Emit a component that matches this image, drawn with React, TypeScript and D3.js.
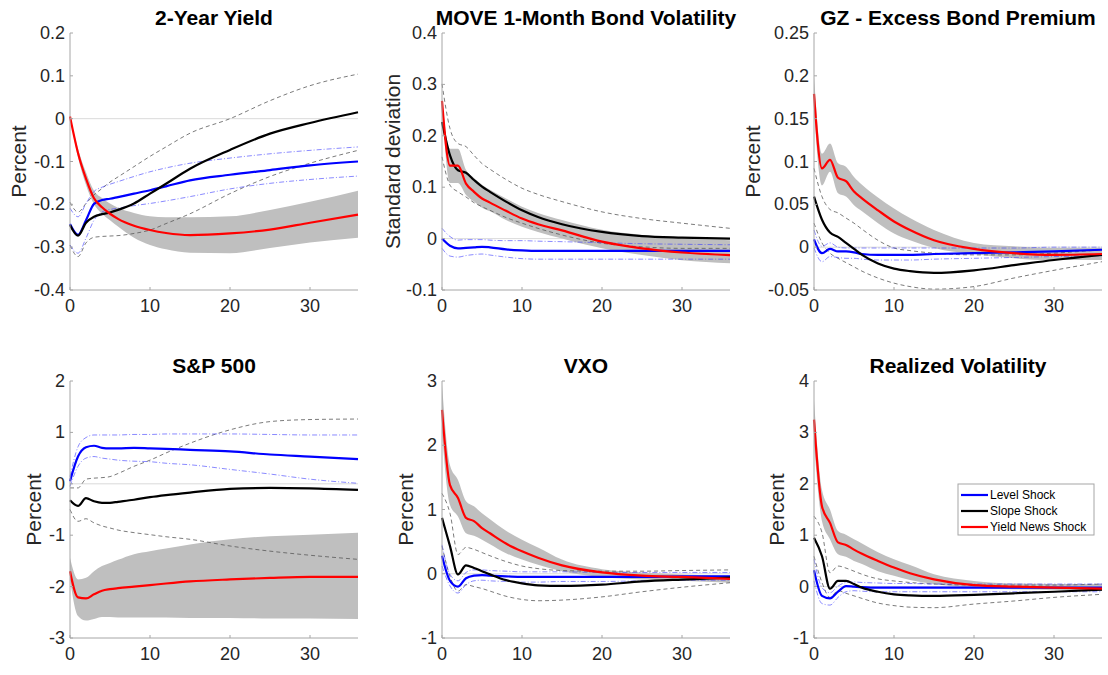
import React from "react";
import * as d3 from "d3";

// Horizons (months) at which values were read
const H = [0, 1, 2, 3, 4, 5, 6, 8, 10, 12, 15, 20, 25, 30, 36];

const TITLES = ["2-Year Yield", "MOVE 1-Month Bond Volatility", "GZ - Excess Bond Premium", "S&P 500", "VXO", "Realized Volatility"];
const YLABELS = ["Percent", "Standard deviation", "Percent", "Percent", "Percent", "Percent"];
const YDOMAINS = [[-0.4, 0.2], [-0.1, 0.4], [-0.05, 0.25], [-3, 2], [-1, 3], [-1, 4]];
const YTICKS = [
  [-0.4, -0.3, -0.2, -0.1, 0, 0.1, 0.2],
  [-0.1, 0, 0.1, 0.2, 0.3, 0.4],
  [-0.05, 0, 0.05, 0.1, 0.15, 0.2, 0.25],
  [-3, -2, -1, 0, 1, 2],
  [-1, 0, 1, 2, 3],
  [-1, 0, 1, 2, 3, 4],
];
const XTICKS = [0, 10, 20, 30];
const LEGEND = ["Level Shock", "Slope Shock", "Yield News Shock"];

// Panel 1: 2-Year Yield
const p1News = [0.005, -0.08, -0.14, -0.186, -0.207, -0.222, -0.234, -0.25, -0.26, -0.267, -0.272, -0.268, -0.259, -0.243, -0.224];
const p1NewsHi = [0.005, -0.07, -0.125, -0.168, -0.185, -0.198, -0.208, -0.22, -0.228, -0.23, -0.23, -0.228, -0.213, -0.194, -0.168];
const p1NewsLo = [0.005, -0.09, -0.155, -0.2, -0.222, -0.237, -0.252, -0.278, -0.295, -0.305, -0.313, -0.314, -0.302, -0.289, -0.278];
const p1Slope = [-0.248, -0.273, -0.243, -0.229, -0.223, -0.219, -0.213, -0.198, -0.175, -0.152, -0.117, -0.073, -0.035, -0.01, 0.015];
const p1SlopeHi = [-0.195, -0.218, -0.198, -0.178, -0.163, -0.148, -0.136, -0.112, -0.088, -0.066, -0.034, 0.0, 0.042, 0.077, 0.104];
const p1SlopeLo = [-0.295, -0.322, -0.29, -0.277, -0.275, -0.274, -0.273, -0.268, -0.26, -0.245, -0.222, -0.175, -0.135, -0.104, -0.074];
const p1Level = [-0.246, -0.271, -0.237, -0.199, -0.19, -0.187, -0.183, -0.175, -0.167, -0.158, -0.144, -0.131, -0.12, -0.109, -0.1];
const p1LevelHi = [-0.209, -0.229, -0.198, -0.17, -0.16, -0.153, -0.147, -0.135, -0.124, -0.115, -0.104, -0.092, -0.082, -0.074, -0.066];
const p1LevelLo = [-0.295, -0.314, -0.279, -0.237, -0.218, -0.212, -0.209, -0.203, -0.198, -0.192, -0.182, -0.164, -0.151, -0.142, -0.134];

// Panel 2: MOVE
const p2News = [0.268, 0.142, 0.142, 0.107, 0.091, 0.078, 0.07, 0.054, 0.039, 0.028, 0.016, -0.006, -0.019, -0.027, -0.032];
const p2NewsHi = [0.272, 0.175, 0.175, 0.134, 0.118, 0.105, 0.095, 0.078, 0.062, 0.05, 0.036, 0.017, 0.007, 0.0, -0.003];
const p2NewsLo = [0.264, 0.108, 0.108, 0.085, 0.072, 0.06, 0.053, 0.036, 0.023, 0.013, 0.0, -0.019, -0.032, -0.042, -0.048];
const p2Slope = [0.227, 0.162, 0.133, 0.128, 0.114, 0.101, 0.091, 0.072, 0.055, 0.042, 0.028, 0.013, 0.005, 0.002, 0.0];
const p2SlopeHi = [0.301, 0.214, 0.185, 0.179, 0.162, 0.146, 0.135, 0.115, 0.098, 0.086, 0.072, 0.052, 0.039, 0.03, 0.02];
const p2SlopeLo = [0.159, 0.104, 0.091, 0.081, 0.07, 0.062, 0.055, 0.041, 0.03, 0.02, 0.007, -0.009, -0.016, -0.019, -0.019];
const p2Level = [0.0, -0.014, -0.019, -0.018, -0.017, -0.016, -0.017, -0.021, -0.023, -0.024, -0.024, -0.024, -0.024, -0.024, -0.024];
const p2LevelHi = [0.02, 0.004, -0.003, -0.002, -0.002, -0.002, -0.003, -0.004, -0.004, -0.005, -0.006, -0.008, -0.01, -0.011, -0.012];
const p2LevelLo = [-0.019, -0.034, -0.036, -0.033, -0.031, -0.03, -0.032, -0.036, -0.039, -0.04, -0.04, -0.04, -0.04, -0.04, -0.04];

// Panel 3: GZ Excess Bond Premium
const p3News = [0.179, 0.092, 0.102, 0.081, 0.077, 0.065, 0.057, 0.043, 0.03, 0.02, 0.008, -0.002, -0.007, -0.009, -0.008];
const p3NewsHi = [0.2, 0.109, 0.121, 0.098, 0.094, 0.082, 0.073, 0.058, 0.045, 0.034, 0.02, 0.005, 0.001, -0.001, -0.001];
const p3NewsLo = [0.16, 0.072, 0.088, 0.063, 0.059, 0.049, 0.042, 0.028, 0.016, 0.008, -0.001, -0.008, -0.013, -0.015, -0.015];
const p3Slope = [0.059, 0.032, 0.017, 0.012, 0.005, -0.002, -0.009, -0.019, -0.025, -0.028, -0.03, -0.027, -0.021, -0.015, -0.009];
const p3SlopeHi = [0.092, 0.059, 0.044, 0.04, 0.034, 0.028, 0.021, 0.008, -0.001, -0.004, -0.007, -0.009, -0.009, -0.007, -0.003];
const p3SlopeLo = [0.028, 0.005, -0.007, -0.013, -0.018, -0.023, -0.028, -0.036, -0.042, -0.046, -0.049, -0.046, -0.036, -0.027, -0.017];
const p3Level = [0.009, -0.007, -0.002, -0.005, -0.005, -0.006, -0.008, -0.009, -0.009, -0.009, -0.008, -0.007, -0.006, -0.005, -0.003];
const p3LevelHi = [0.02, 0.001, 0.005, 0.0, -0.001, -0.001, -0.001, -0.001, -0.001, -0.001, -0.001, -0.001, -0.001, 0.0, 0.0];
const p3LevelLo = [-0.001, -0.017, -0.011, -0.012, -0.013, -0.013, -0.014, -0.015, -0.015, -0.015, -0.014, -0.013, -0.012, -0.011, -0.01];

// Panel 4: S&P 500
const p4News = [-1.7, -2.21, -2.23, -2.15, -2.08, -2.05, -2.03, -2.0, -1.97, -1.94, -1.9, -1.86, -1.83, -1.81, -1.81];
const p4NewsHi = [-1.44, -1.86, -1.83, -1.7, -1.6, -1.54, -1.48, -1.37, -1.31, -1.26, -1.18, -1.08, -1.02, -0.99, -0.95];
const p4NewsLo = [-1.86, -2.57, -2.66, -2.63, -2.59, -2.59, -2.6, -2.6, -2.6, -2.6, -2.61, -2.61, -2.62, -2.62, -2.63];
const p4Slope = [-0.32, -0.43, -0.28, -0.34, -0.37, -0.37, -0.35, -0.31, -0.26, -0.22, -0.17, -0.1, -0.08, -0.09, -0.12];
const p4SlopeHi = [-0.08, -0.08, 0.09, 0.11, 0.12, 0.14, 0.2, 0.34, 0.46, 0.6, 0.79, 1.05, 1.21, 1.25, 1.26];
const p4SlopeLo = [-0.5, -0.73, -0.68, -0.76, -0.82, -0.86, -0.9, -0.95, -0.99, -1.03, -1.08, -1.21, -1.31, -1.39, -1.47];
const p4Level = [0.05, 0.53, 0.71, 0.74, 0.7, 0.69, 0.69, 0.7, 0.69, 0.68, 0.66, 0.63, 0.57, 0.53, 0.48];
const p4LevelHi = [0.14, 0.72, 0.9, 0.95, 0.95, 0.95, 0.95, 0.96, 0.96, 0.97, 0.97, 0.97, 0.96, 0.95, 0.95];
const p4LevelLo = [-0.05, 0.34, 0.5, 0.53, 0.5, 0.48, 0.46, 0.44, 0.43, 0.4, 0.37, 0.28, 0.19, 0.09, 0.01];

// Panel 5: VXO
const p5News = [2.55, 1.38, 1.18, 0.87, 0.82, 0.71, 0.63, 0.47, 0.35, 0.25, 0.13, 0.02, -0.03, -0.05, -0.08];
const p5NewsHi = [2.95, 1.69, 1.46, 1.13, 1.05, 0.94, 0.85, 0.67, 0.53, 0.41, 0.22, 0.07, 0.02, -0.01, -0.03];
const p5NewsLo = [2.2, 1.07, 0.89, 0.63, 0.59, 0.53, 0.46, 0.32, 0.22, 0.14, 0.04, -0.05, -0.09, -0.11, -0.14];
const p5Slope = [0.87, 0.43, -0.01, 0.13, 0.09, 0.04, -0.01, -0.1, -0.15, -0.18, -0.19, -0.17, -0.12, -0.09, -0.06];
const p5SlopeHi = [1.25, 0.94, 0.3, 0.41, 0.38, 0.33, 0.28, 0.19, 0.12, 0.08, 0.05, 0.04, 0.04, 0.05, 0.06];
const p5SlopeLo = [0.43, -0.04, -0.27, -0.17, -0.2, -0.23, -0.27, -0.35, -0.4, -0.42, -0.41, -0.36, -0.28, -0.21, -0.14];
const p5Level = [0.28, -0.11, -0.2, -0.07, -0.03, -0.02, -0.03, -0.04, -0.05, -0.05, -0.05, -0.05, -0.05, -0.04, -0.04];
const p5LevelHi = [0.45, -0.01, -0.11, 0.02, 0.06, 0.06, 0.05, 0.04, 0.03, 0.03, 0.03, 0.02, 0.02, 0.02, 0.02];
const p5LevelLo = [0.12, -0.19, -0.3, -0.17, -0.11, -0.1, -0.11, -0.12, -0.13, -0.13, -0.12, -0.12, -0.11, -0.1, -0.1];

// Panel 6: Realized Volatility
const p6News = [3.25, 1.56, 1.24, 0.86, 0.81, 0.72, 0.64, 0.5, 0.37, 0.26, 0.14, 0.03, 0.0, -0.02, -0.04];
const p6NewsHi = [3.63, 1.88, 1.5, 1.08, 1.01, 0.92, 0.84, 0.67, 0.53, 0.42, 0.24, 0.11, 0.06, 0.05, 0.05];
const p6NewsLo = [2.79, 1.27, 0.92, 0.63, 0.58, 0.5, 0.44, 0.3, 0.21, 0.13, 0.05, -0.02, -0.05, -0.06, -0.08];
const p6Slope = [0.95, 0.59, -0.04, 0.11, 0.11, 0.05, -0.02, -0.1, -0.15, -0.17, -0.18, -0.16, -0.13, -0.1, -0.06];
const p6SlopeHi = [1.37, 1.05, 0.27, 0.4, 0.36, 0.3, 0.24, 0.15, 0.11, 0.08, 0.05, 0.03, 0.03, 0.03, 0.05];
const p6SlopeLo = [0.59, 0.08, -0.21, -0.08, -0.13, -0.18, -0.23, -0.32, -0.37, -0.4, -0.41, -0.34, -0.28, -0.21, -0.15];
const p6Level = [0.32, -0.18, -0.23, -0.1, 0.01, 0.0, -0.01, -0.02, -0.02, -0.02, -0.02, -0.02, -0.02, -0.02, -0.02];
const p6LevelHi = [0.53, -0.02, -0.12, 0.01, 0.08, 0.09, 0.08, 0.07, 0.06, 0.06, 0.05, 0.05, 0.05, 0.05, 0.05];
const p6LevelLo = [0.11, -0.33, -0.36, -0.21, -0.1, -0.08, -0.09, -0.1, -0.1, -0.1, -0.1, -0.1, -0.1, -0.1, -0.1];

const SERIES = [
  { level: [p1Level, p1LevelHi, p1LevelLo], slope: [p1Slope, p1SlopeHi, p1SlopeLo], news: [p1News, p1NewsHi, p1NewsLo] },
  { level: [p2Level, p2LevelHi, p2LevelLo], slope: [p2Slope, p2SlopeHi, p2SlopeLo], news: [p2News, p2NewsHi, p2NewsLo] },
  { level: [p3Level, p3LevelHi, p3LevelLo], slope: [p3Slope, p3SlopeHi, p3SlopeLo], news: [p3News, p3NewsHi, p3NewsLo] },
  { level: [p4Level, p4LevelHi, p4LevelLo], slope: [p4Slope, p4SlopeHi, p4SlopeLo], news: [p4News, p4NewsHi, p4NewsLo] },
  { level: [p5Level, p5LevelHi, p5LevelLo], slope: [p5Slope, p5SlopeHi, p5SlopeLo], news: [p5News, p5NewsHi, p5NewsLo] },
  { level: [p6Level, p6LevelHi, p6LevelLo], slope: [p6Slope, p6SlopeHi, p6SlopeLo], news: [p6News, p6NewsHi, p6NewsLo] },
];

const FONT = "'Liberation Sans', Arial, Helvetica, sans-serif";
const COL_X = [70, 442, 814];
const ROW_Y = [33, 381];
const PW = 288;
const PH = 257;
const YLABEL_OFF = [52, 50, 62, 37, 37, 38];
const AXIS = "#a6a6a6";
const TEXT = "#262626";

function fmt(v: number) {
  const r = Math.round(v * 1000) / 1000;
  return String(r);
}

function Panel({ i }: { i: number }) {
  const x0 = COL_X[i % 3];
  const y0 = ROW_Y[Math.floor(i / 3)];
  const x = d3.scaleLinear().domain([0, 36]).range([x0, x0 + PW]);
  const y = d3.scaleLinear().domain(YDOMAINS[i]).range([y0 + PH, y0]);
  const s = SERIES[i];
  const curve = d3.curveMonotoneX;
  const line = (vals: number[]) =>
    d3.line<number>().x((_, k) => x(H[k])).y((v) => y(v)).curve(curve)(vals) || "";
  const area = d3
    .area<number>()
    .x((_, k) => x(H[k]))
    .y0((_, k) => y(s.news[2][k]))
    .y1((_, k) => y(s.news[1][k]))
    .curve(curve)(s.news[0]) || "";
  const cx = x0 + PW / 2;
  const cy = y0 + PH / 2;
  const lx = x0 - YLABEL_OFF[i];
  return (
    <g>
      <text x={cx} y={y0 - 8} textAnchor="middle" fontFamily={FONT} fontWeight="bold" fontSize={21} fill="#000">
        {TITLES[i]}
      </text>
      <text
        transform={`translate(${lx},${cy}) rotate(-90)`}
        textAnchor="middle"
        dominantBaseline="central"
        fontFamily={FONT}
        fontSize={21}
        fill={TEXT}
      >
        {YLABELS[i]}
      </text>
      {/* zero line */}
      <line x1={x0} x2={x0 + PW} y1={y(0)} y2={y(0)} stroke="#d0d0d0" strokeWidth={0.8} />
      {/* news band */}
      <path d={area} fill="#bfbfbf" stroke="none" />
      {/* slope bounds */}
      {[1, 2].map((k) => (
        <path key={"s" + k} d={line(s.slope[k])} fill="none" stroke="#595959" strokeWidth={0.8} strokeDasharray="4,3" />
      ))}
      {/* level bounds */}
      {[1, 2].map((k) => (
        <path key={"l" + k} d={line(s.level[k])} fill="none" stroke="#3a3aff" strokeOpacity={0.75} strokeWidth={0.8} strokeDasharray="5,2,1,2" />
      ))}
      <path d={line(s.level[0])} fill="none" stroke="#0000ff" strokeWidth={2.2} />
      <path d={line(s.slope[0])} fill="none" stroke="#000000" strokeWidth={2.2} />
      <path d={line(s.news[0])} fill="none" stroke="#ff0000" strokeWidth={2.2} />
      {/* axes */}
      <line x1={x0} x2={x0} y1={y0} y2={y0 + PH} stroke={AXIS} strokeWidth={1} />
      <line x1={x0} x2={x0 + PW} y1={y0 + PH} y2={y0 + PH} stroke={AXIS} strokeWidth={1} />
      {YTICKS[i].map((t) => (
        <g key={"yt" + t}>
          <line x1={x0} x2={x0 + 3} y1={y(t)} y2={y(t)} stroke={AXIS} />
          <text x={x0 - 5} y={y(t)} textAnchor="end" dominantBaseline="central" fontFamily={FONT} fontSize={18} fill={TEXT}>
            {fmt(t)}
          </text>
        </g>
      ))}
      {XTICKS.map((t) => (
        <g key={"xt" + t}>
          <line x1={x(t)} x2={x(t)} y1={y0 + PH} y2={y0 + PH - 3} stroke={AXIS} />
          <text x={x(t)} y={y0 + PH + 22} textAnchor="middle" fontFamily={FONT} fontSize={18} fill={TEXT}>
            {t}
          </text>
        </g>
      ))}
    </g>
  );
}

function Legend() {
  const colors = ["#0000ff", "#000000", "#ff0000"];
  const lx = 958;
  const ly = 484;
  return (
    <g>
      <rect x={lx} y={ly} width={136} height={51} fill="#fff" stroke={AXIS} strokeWidth={1} />
      {LEGEND.map((name, k) => (
        <g key={name}>
          <line x1={lx + 3} x2={lx + 30} y1={ly + 11 + k * 16} y2={ly + 11 + k * 16} stroke={colors[k]} strokeWidth={2.2} />
          <text x={lx + 32} y={ly + 11 + k * 16} dominantBaseline="central" fontFamily={FONT} fontSize={12} fill="#000">
            {name}
          </text>
        </g>
      ))}
    </g>
  );
}

export default function App() {
  return (
    <svg width={1108} height={675} style={{ position: "absolute", left: 0, top: 0, background: "#fff" }}>
      <rect width={1108} height={675} fill="#fff" />
      {[0, 1, 2, 3, 4, 5].map((i) => (
        <Panel key={i} i={i} />
      ))}
      <Legend />
    </svg>
  );
}
